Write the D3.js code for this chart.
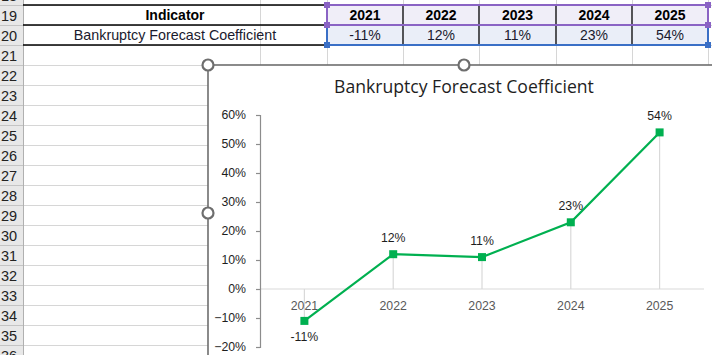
<!DOCTYPE html>
<html><head><meta charset="utf-8">
<script src="https://cdn.jsdelivr.net/npm/d3@7"></script>
<style>body{margin:0;background:#fff;overflow:hidden}svg{display:block}</style>
</head><body>
<svg id="c" width="712" height="355"></svg>
<script>
const years = ["2021","2022","2023","2024","2025"];
const values = [-0.11, 0.12, 0.11, 0.23, 0.54];
const valueLabels = ["-11%","12%","11%","23%","54%"];
const yTicks = [-0.2,-0.1,0,0.1,0.2,0.3,0.4,0.5,0.6];
const rowNumbers = [18,19,20,21,22,23,24,25,26,27,28,29,30,31,32,33,34,35,36];
const title = "Bankruptcy Forecast Coefficient";
const indicatorHeader = "Indicator";

const svg = d3.select("#c");
const F = "'Liberation Sans', Arial, sans-serif";

// ---- spreadsheet background ----
const rowY = d3.scaleLinear().domain([18,19]).range([-15,5]); // top of row
const colEdges = [23,260,327,403,479,556,632,708];
const g0 = svg.append("g");
g0.append("rect").attr("x",0).attr("y",0).attr("width",712).attr("height",355).attr("fill","#fff");
rowNumbers.forEach(r=>{
  g0.append("line").attr("x1",23).attr("x2",712).attr("y1",rowY(r)+0.5).attr("y2",rowY(r)+0.5).attr("stroke","#d6d6d6");
});
colEdges.slice(1).forEach(x=>{
  g0.append("line").attr("x1",x+0.5).attr("x2",x+0.5).attr("y1",0).attr("y2",355).attr("stroke","#d6d6d6");
});
g0.append("rect").attr("x",0).attr("y",0).attr("width",23).attr("height",355).attr("fill","#e8e8e8");
rowNumbers.forEach(r=>{
  g0.append("line").attr("x1",0).attr("x2",23).attr("y1",rowY(r)+0.5).attr("y2",rowY(r)+0.5).attr("stroke","#c4c4c4");
  g0.append("text").attr("x",1).attr("y",rowY(r)+15.5).attr("font-family",F).attr("font-size",14.5).attr("fill","#222").text(r);
});
g0.append("line").attr("x1",23.5).attr("x2",23.5).attr("y1",0).attr("y2",355).attr("stroke","#b0b0b0");

// table
const yearX = i => (colEdges[i+2]+colEdges[i+3])/2;
g0.append("rect").attr("x",327).attr("y",5).attr("width",381).attr("height",20).attr("fill","#f0eef8");
g0.append("rect").attr("x",327).attr("y",25).attr("width",381).attr("height",20).attr("fill","#eaeef8");
[5,25,45].forEach(y=>{
  g0.append("line").attr("x1",23).attr("x2",708).attr("y1",y).attr("y2",y).attr("stroke","#000").attr("stroke-width",1.5);
});
[403,479,556,632].forEach(x=>{
  g0.append("line").attr("x1",x).attr("x2",x).attr("y1",5).attr("y2",45).attr("stroke","#000").attr("stroke-width",1.3);
});
g0.append("text").attr("x",175).attr("y",20).attr("text-anchor","middle").attr("font-family",F).attr("font-size",14).attr("font-weight","bold").text(indicatorHeader);
g0.append("text").attr("x",175).attr("y",40).attr("text-anchor","middle").attr("font-family",F).attr("font-size",14.3).attr("fill","#1a1a2e").text(title);
years.forEach((yr,i)=>{
  g0.append("text").attr("x",yearX(i)).attr("y",20).attr("text-anchor","middle").attr("font-family",F).attr("font-size",14).attr("font-weight","bold").text(yr);
  g0.append("text").attr("x",yearX(i)).attr("y",40).attr("text-anchor","middle").attr("font-family",F).attr("font-size",14).attr("fill","#1a1a2e").text(valueLabels[i]);
});
const purple="#8a63c4", blue="#3a6fc6";
g0.append("path").attr("d","M327,25 L327,5 L708,5 L708,25 Z").attr("fill","none").attr("stroke",purple).attr("stroke-width",2);
g0.append("path").attr("d","M327,26 L327,45 L708,45 L708,26").attr("fill","none").attr("stroke",blue).attr("stroke-width",2);
[[327,5,purple],[708,5,purple],[327,25,purple],[708,25,purple],[327,45,blue],[708,45,blue]].forEach(([x,y,c])=>{
  g0.append("rect").attr("x",x-3).attr("y",y-3).attr("width",6).attr("height",6).attr("fill",c);
});

// ---- chart ----
const gc = svg.append("g");
gc.append("rect").attr("x",208).attr("y",65).attr("width",520).attr("height",300).attr("fill","#fff").attr("stroke","#6e6e6e").attr("stroke-width",1.6);
gc.append("text").attr("x",464).attr("y",93).attr("text-anchor","middle").attr("font-family","'Open Sans','Liberation Sans',sans-serif").attr("font-size",17.6).attr("fill","#1e1e1e").text(title);

const y = d3.scaleLinear().domain([-0.2,0.6]).range([347,115]);
const x = d3.scalePoint().domain(years).range([260,704]).padding(0.5);

gc.append("line").attr("x1",260).attr("x2",704).attr("y1",y(0)).attr("y2",y(0)).attr("stroke","#d9d9d9").attr("stroke-width",1.2);
gc.selectAll("line.drop").data(years).enter().append("line")
  .attr("x1",d=>x(d)).attr("x2",d=>x(d))
  .attr("y1",y(0)).attr("y2",(d,i)=>y(values[i]))
  .attr("stroke","#d9d9d9").attr("stroke-width",1.2);

const ya = gc.append("g").attr("transform","translate(260,0)")
  .call(d3.axisLeft(y).tickValues(yTicks).tickFormat(d3.format(".0%")).tickSize(4).tickSizeOuter(4).tickPadding(10));
ya.selectAll("path,line").attr("stroke","#8c8c8c").attr("stroke-width",1.2);
ya.selectAll("text").attr("font-family",F).attr("font-size",12.3).attr("fill","#1e1e1e");

gc.selectAll("text.xl").data(years).enter().append("text")
  .attr("x",d=>x(d)).attr("y",310).attr("text-anchor","middle")
  .attr("font-family",F).attr("font-size",12.3).attr("fill","#595959").text(d=>d);

const line = d3.line().x((d,i)=>x(years[i])).y(d=>y(d));
gc.append("path").datum(values).attr("d",line).attr("fill","none").attr("stroke","#00b050").attr("stroke-width",2.2);
gc.selectAll("rect.m").data(values).enter().append("rect")
  .attr("x",(d,i)=>x(years[i])-4).attr("y",d=>y(d)-4).attr("width",8).attr("height",8).attr("fill","#00b050");
gc.selectAll("text.dl").data(values).enter().append("text")
  .attr("x",(d,i)=>x(years[i])).attr("y",d=>d<0? y(d)+20 : y(d)-12.5)
  .attr("text-anchor","middle").attr("font-family",F).attr("font-size",12.3).attr("fill","#1e1e1e")
  .text((d,i)=>valueLabels[i]);

[[208,65],[464,65],[208,213]].forEach(([cx,cy])=>{
  gc.append("circle").attr("cx",cx).attr("cy",cy).attr("r",5.5).attr("fill","#fff").attr("stroke","#6e6e6e").attr("stroke-width",2.2);
});
</script>
</body></html>
